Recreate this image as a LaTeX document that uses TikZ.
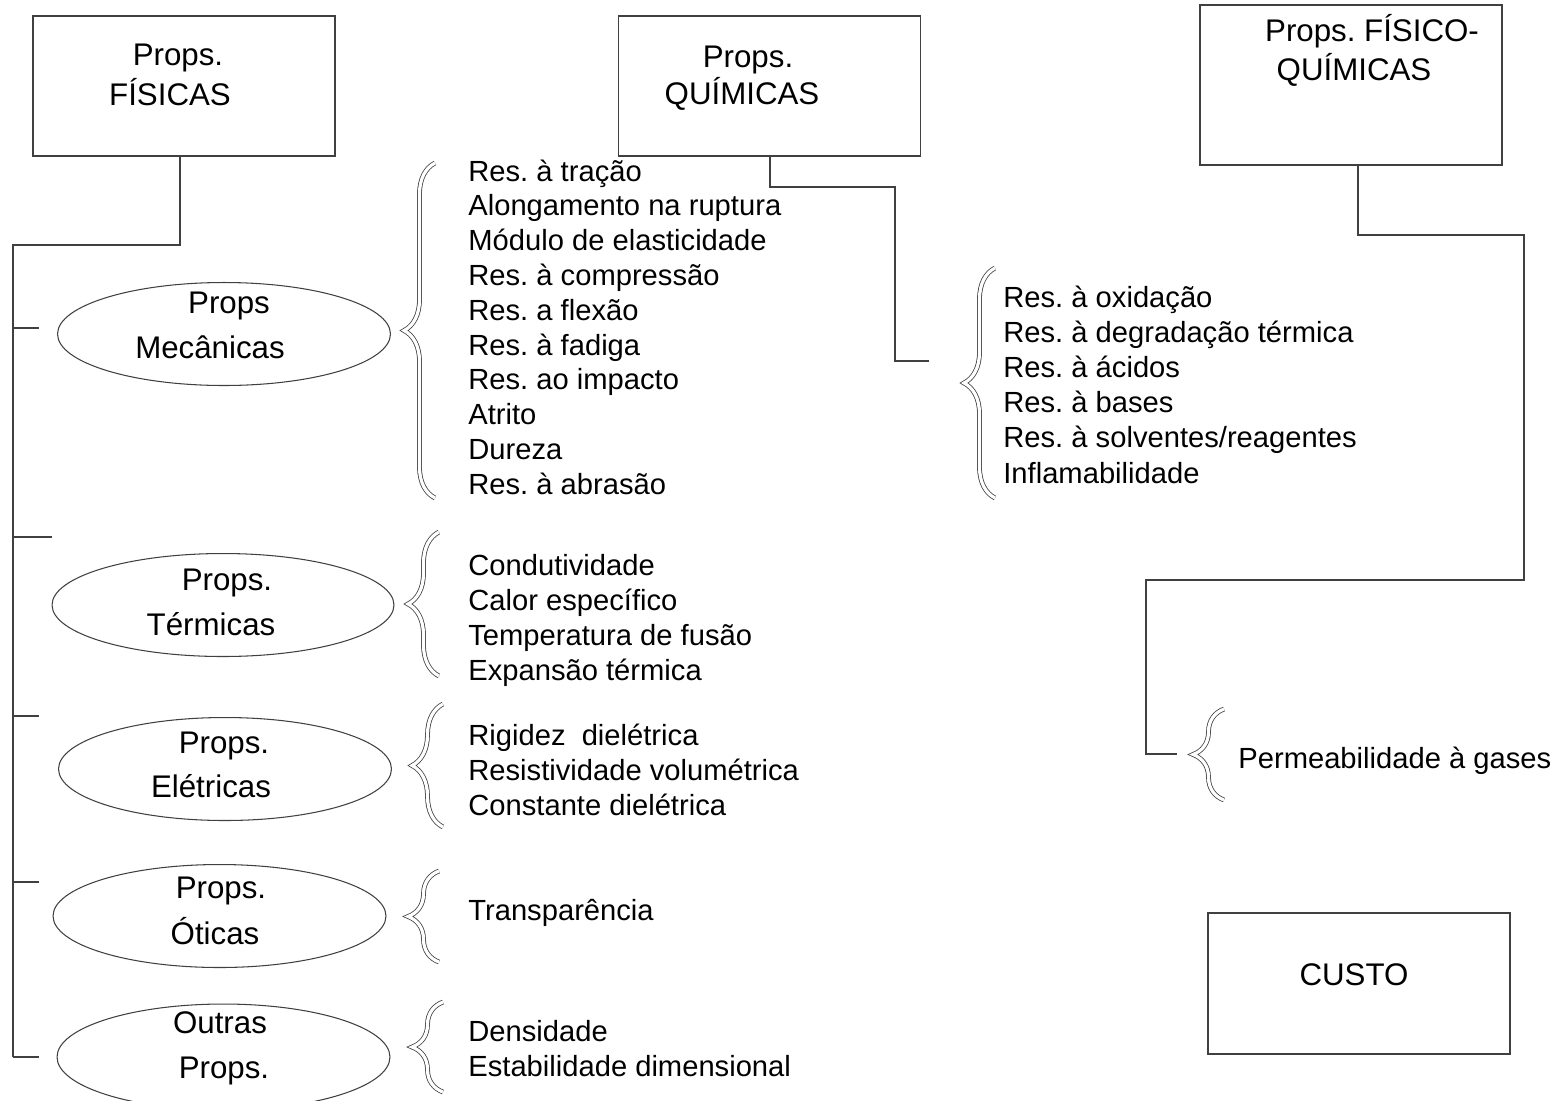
\documentclass[tikz,border=0pt]{standalone}
\usepackage{fontspec}
\setmainfont{Liberation Sans}
\usetikzlibrary{shapes.geometric, decorations.pathreplacing}

\begin{document}
\frenchspacing
\begin{tikzpicture}[
    x=0.02cm, y=-0.02cm,
    box/.style={draw=black!75, line width=0.7pt, minimum width=6.04cm, minimum height=2.8cm, inner sep=0pt},
    ell/.style={draw=black!75, line width=0.6pt, ellipse, minimum width=6.66cm, minimum height=2.06cm, inner sep=0pt},
    lbl/.style={anchor=base, inner sep=0pt, font=\fontsize{17.8}{21}\selectfont},
    item/.style={anchor=base west, inner sep=0pt, font=\fontsize{16.6}{20}\selectfont},
    link/.style={draw=black!75, line width=0.7pt},
    brc/.style={decorate, decoration={brace, amplitude=0.62cm}, draw=black!75, double=white, double distance=1.8pt, line width=0.45pt},
]
\useasboundingbox (0,0) rectangle (1564,1100);

% main boxes
\node[box] (fis) at (184,86) {};
\node[box] (qui) at (769.5,86) {};
\node[box, minimum height=3.2cm] (fq) at (1351,85) {};
\node[box, minimum height=2.82cm] (custo) at (1359,983.5) {};

\node[lbl] (fis-a) at (178,65) {Props.};
\node[lbl] (fis-b) at (170,105) {FÍSICAS};
\node[lbl] (qui-a) at (748,67) {Props.};
\node[lbl] (qui-b) at (742,104) {QUÍMICAS};
\node[lbl] (fq-a) at (1372,41) {Props. FÍSICO-};
\node[lbl] (fq-b) at (1354,80) {QUÍMICAS};
\node[lbl] (custo-a) at (1354,985) {CUSTO};

% ellipses
\node[ell] (mec) at (224,334) {};
\node[ell, minimum width=6.84cm] (term) at (223,605) {};
\node[ell] (elet) at (225,769) {};
\node[ell] (otic) at (219.5,916) {};
\node[ell, minimum height=2.12cm] (outr) at (223.5,1057) {};

\node[lbl] (mec-a) at (229,313) {Props};
\node[lbl] (mec-b) at (210,358) {Mecânicas};
\node[lbl] (term-a) at (227,590) {Props.};
\node[lbl] (term-b) at (211,635) {Térmicas};
\node[lbl] (elet-a) at (224,753) {Props.};
\node[lbl] (elet-b) at (211,797) {Elétricas};
\node[lbl] (otic-a) at (221,898) {Props.};
\node[lbl] (otic-b) at (215,944) {Óticas};
\node[lbl] (outr-a) at (220,1033) {Outras};
\node[lbl] (outr-b) at (224,1078) {Props.};

% braces
\draw[brc] (435,498) -- (435,163);
\draw[brc] (439,676) -- (439,532);
\draw[brc] (443,827) -- (443,704);
\draw[brc] (439,962) -- (439,871);
\draw[brc] (443,1092) -- (443,1002);
\draw[brc] (995,498) -- (995,268);
\draw[brc] (1224,800) -- (1224,709);

% lists
\foreach \t [count=\i from 0] in {Res. à tração, Alongamento na ruptura, Módulo de elasticidade,
    Res. à compressão, Res. a flexão, Res. à fadiga, Res. ao impacto, Atrito, Dureza, Res. à abrasão}
    \node[item] (mec-\i) at (468,181+34.8*\i) {\t};
\foreach \t [count=\i from 0] in {Condutividade, Calor específico, Temperatura de fusão, Expansão térmica}
    \node[item] (term-\i) at (468,575+35*\i) {\t};
\foreach \t [count=\i from 0] in {Rigidez~ dielétrica, Resistividade volumétrica, Constante dielétrica}
    \node[item] (elet-\i) at (468,745+35*\i) {\t};
\node[item] (otic-0) at (468,920) {Transparência};
\foreach \t [count=\i from 0] in {Densidade, Estabilidade dimensional}
    \node[item] (outr-\i) at (468,1041+35*\i) {\t};
\foreach \t [count=\i from 0] in {Res. à oxidação, Res. à degradação térmica, Res. à ácidos,
    Res. à bases, Res. à solventes/reagentes, Inflamabilidade}
    \node[item] (qui-\i) at (1003,307+35.2*\i) {\t};
\node[item] (perm) at (1238,768) {Permeabilidade à gases};

% connectors
\coordinate (fis-out) at (180,156);
\coordinate (trunk) at (13,245);
\coordinate (trunk-end) at (13,1057);
\draw[link] (fis-out) |- (trunk) -- (trunk-end);
\foreach \y/\l in {328/26, 537/39, 716/26, 882/26, 1057/26}
    \draw[link] (13,\y) -- ++(\l,0);

\coordinate (qui-out) at (770,156);
\coordinate (qui-in) at (929,361);
\draw[link] (qui-out) |- (895,187) |- (qui-in);

\coordinate (fq-out) at (1358,165);
\coordinate (perm-in) at (1177,754);
\draw[link] (fq-out) |- (1524,235) |- (1146,580) |- (perm-in);

\end{tikzpicture}
\end{document}
